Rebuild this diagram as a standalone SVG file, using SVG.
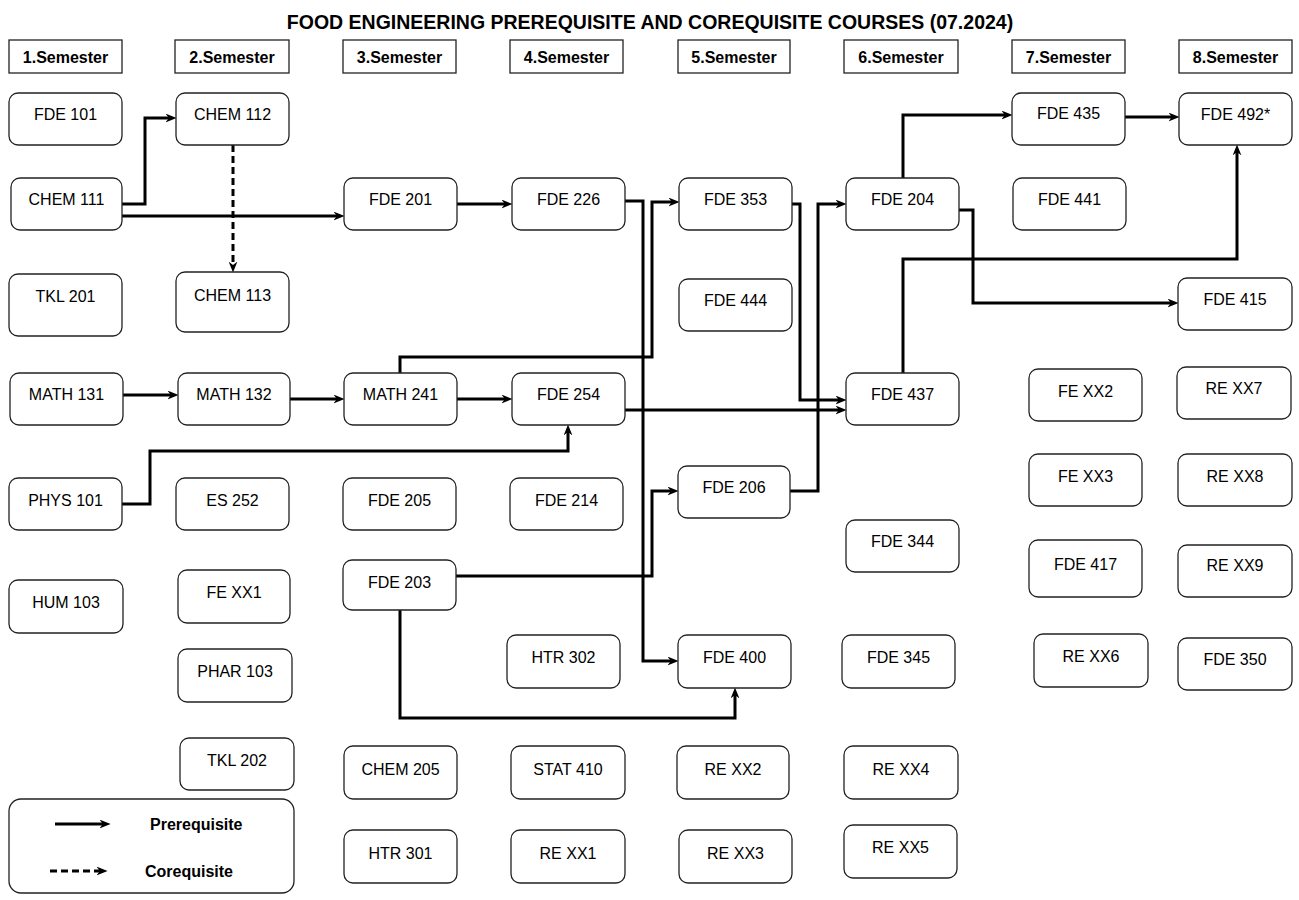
<svg xmlns="http://www.w3.org/2000/svg" width="1299" height="900" viewBox="0 0 1299 900">
<style>
.hdr rect{fill:#fff;stroke:#222;stroke-width:1.3}
.hdr text{font-family:"Liberation Sans",Arial,sans-serif;font-weight:bold;font-size:16px;text-anchor:middle}
.node rect{fill:#fff;stroke:#222;stroke-width:1.3}
.node text{font-family:"Liberation Sans",Arial,sans-serif;font-size:16px;text-anchor:middle;fill:#000}
.title{font-family:"Liberation Sans",Arial,sans-serif;font-weight:bold;font-size:19.5px;text-anchor:middle}
.c{fill:none;stroke:#000;stroke-width:3;marker-end:url(#ah)}
.d{fill:none;stroke:#000;stroke-width:3;stroke-dasharray:7 4;marker-end:url(#ah)}
.leg{font-family:"Liberation Sans",Arial,sans-serif;font-weight:bold;font-size:16px}
</style>
<defs>
<marker id="ah" viewBox="0 0 10 8" markerWidth="11" markerHeight="9" refX="4" refY="4" orient="auto" markerUnits="userSpaceOnUse">
<path d="M0,0 L10,4 L0,8 L3,4 z" fill="#000"/>
</marker>
</defs>
<rect width="1299" height="900" fill="#fff"/>
<text class="title" x="650" y="29">FOOD ENGINEERING PREREQUISITE AND COREQUISITE COURSES (07.2024)</text>

<g id="semesters">
<g id="sem1" class="hdr"><rect x="9" y="40" width="113" height="33"/><text x="65.5" y="63">1.Semester</text></g>
<g id="sem2" class="hdr"><rect x="175" y="40" width="114" height="33"/><text x="232" y="63">2.Semester</text></g>
<g id="sem3" class="hdr"><rect x="343" y="40" width="113" height="33"/><text x="399.5" y="63">3.Semester</text></g>
<g id="sem4" class="hdr"><rect x="510" y="40" width="113" height="33"/><text x="566.5" y="63">4.Semester</text></g>
<g id="sem5" class="hdr"><rect x="678" y="40" width="112" height="33"/><text x="734" y="63">5.Semester</text></g>
<g id="sem6" class="hdr"><rect x="844" y="40" width="114" height="33"/><text x="901" y="63">6.Semester</text></g>
<g id="sem7" class="hdr"><rect x="1012" y="40" width="113" height="33"/><text x="1068.5" y="63">7.Semester</text></g>
<g id="sem8" class="hdr"><rect x="1179" y="40" width="113" height="33"/><text x="1235.5" y="63">8.Semester</text></g>
</g>

<g id="connectors">
<path class="c" d="M122,204 H145 V118 H170"/>
<path class="c" d="M122,216 H338"/>
<path class="d" d="M233,145 V266"/>
<path class="c" d="M123,395 H172"/>
<path class="c" d="M290,399 H338"/>
<path class="c" d="M457,399 H506"/>
<path class="c" d="M457,204 H506"/>
<path class="c" d="M400,373 V357 H652 V202 H673"/>
<path class="c" d="M625,201 H643 V661 H672"/>
<path class="c" d="M122,504 H150 V451 H568 V431"/>
<path class="c" d="M625,410 H840"/>
<path class="c" d="M792,204 H800 V400 H840"/>
<path class="c" d="M456,576 H652 V491 H672"/>
<path class="c" d="M790,491 H818 V204 H840"/>
<path class="c" d="M400,610 V718 H735 V694"/>
<path class="c" d="M903,178 V115 H1006"/>
<path class="c" d="M1125,117 H1173"/>
<path class="c" d="M903,373 V259 H1237 V151"/>
<path class="c" d="M959,210 H973 V303 H1172"/>
</g>

<g id="nodes">
<g id="FDE101" class="node"><rect x="9" y="93" width="113" height="52" rx="9"/><text x="65.5" y="120">FDE 101</text></g>
<g id="CHEM112" class="node"><rect x="176" y="93" width="113" height="52" rx="9"/><text x="232.5" y="120">CHEM 112</text></g>
<g id="FDE435" class="node"><rect x="1012" y="93" width="113" height="52" rx="9"/><text x="1068.5" y="119">FDE 435</text></g>
<g id="FDE492" class="node"><rect x="1179" y="93" width="113" height="52" rx="9"/><text x="1235.5" y="120">FDE 492*</text></g>

<g id="CHEM111" class="node"><rect x="11" y="178" width="111" height="52" rx="9"/><text x="66.5" y="205">CHEM 111</text></g>
<g id="FDE201" class="node"><rect x="344" y="178" width="113" height="52" rx="9"/><text x="400.5" y="205">FDE 201</text></g>
<g id="FDE226" class="node"><rect x="512" y="178" width="113" height="52" rx="9"/><text x="568.5" y="205">FDE 226</text></g>
<g id="FDE353" class="node"><rect x="679" y="178" width="113" height="52" rx="9"/><text x="735.5" y="205">FDE 353</text></g>
<g id="FDE204" class="node"><rect x="846" y="178" width="113" height="52" rx="9"/><text x="902.5" y="205">FDE 204</text></g>
<g id="FDE441" class="node"><rect x="1013" y="178" width="113" height="52" rx="9"/><text x="1069.5" y="205">FDE 441</text></g>

<g id="TKL201" class="node"><rect x="9" y="274" width="113" height="62" rx="9"/><text x="65.5" y="302">TKL 201</text></g>
<g id="CHEM113" class="node"><rect x="176" y="272" width="113" height="60" rx="9"/><text x="232.5" y="301">CHEM 113</text></g>
<g id="FDE444" class="node"><rect x="679" y="279" width="113" height="52" rx="9"/><text x="735.5" y="306">FDE 444</text></g>
<g id="FDE415" class="node"><rect x="1178" y="278" width="114" height="52" rx="9"/><text x="1235" y="305">FDE 415</text></g>

<g id="MATH131" class="node"><rect x="10" y="373" width="113" height="52" rx="9"/><text x="66.5" y="400">MATH 131</text></g>
<g id="MATH132" class="node"><rect x="178" y="373" width="112" height="52" rx="9"/><text x="234" y="400">MATH 132</text></g>
<g id="MATH241" class="node"><rect x="344" y="373" width="113" height="52" rx="9"/><text x="400.5" y="400">MATH 241</text></g>
<g id="FDE254" class="node"><rect x="512" y="373" width="113" height="52" rx="9"/><text x="568.5" y="400">FDE 254</text></g>
<g id="FDE437" class="node"><rect x="846" y="373" width="113" height="52" rx="9"/><text x="902.5" y="400">FDE 437</text></g>
<g id="FEXX2" class="node"><rect x="1029" y="369" width="113" height="52" rx="9"/><text x="1085.5" y="397">FE XX2</text></g>
<g id="REXX7" class="node"><rect x="1177" y="367" width="114" height="52" rx="9"/><text x="1234" y="394">RE XX7</text></g>

<g id="PHYS101" class="node"><rect x="9" y="478" width="113" height="52" rx="9"/><text x="65.5" y="506">PHYS 101</text></g>
<g id="ES252" class="node"><rect x="176" y="478" width="113" height="52" rx="9"/><text x="232.5" y="506">ES 252</text></g>
<g id="FDE205" class="node"><rect x="343" y="478" width="113" height="52" rx="9"/><text x="399.5" y="506">FDE 205</text></g>
<g id="FDE214" class="node"><rect x="510" y="478" width="113" height="52" rx="9"/><text x="566.5" y="506">FDE 214</text></g>
<g id="FDE206" class="node"><rect x="678" y="466" width="112" height="52" rx="9"/><text x="734" y="493">FDE 206</text></g>
<g id="FEXX3" class="node"><rect x="1029" y="454" width="113" height="52" rx="9"/><text x="1085.5" y="482">FE XX3</text></g>
<g id="REXX8" class="node"><rect x="1178" y="454" width="114" height="52" rx="9"/><text x="1235" y="482">RE XX8</text></g>
<g id="FDE344" class="node"><rect x="846" y="520" width="113" height="52" rx="9"/><text x="902.5" y="547">FDE 344</text></g>

<g id="HUM103" class="node"><rect x="9" y="580" width="114" height="53" rx="9"/><text x="66" y="608">HUM 103</text></g>
<g id="FEXX1" class="node"><rect x="178" y="570" width="112" height="53" rx="9"/><text x="234" y="598">FE XX1</text></g>
<g id="FDE203" class="node"><rect x="343" y="560" width="113" height="50" rx="9"/><text x="399.5" y="588">FDE 203</text></g>
<g id="FDE417" class="node"><rect x="1029" y="540" width="113" height="57" rx="9"/><text x="1085.5" y="570">FDE 417</text></g>
<g id="REXX9" class="node"><rect x="1178" y="545" width="114" height="52" rx="9"/><text x="1235" y="571">RE XX9</text></g>

<g id="PHAR103" class="node"><rect x="178" y="649" width="114" height="53" rx="9"/><text x="235" y="677">PHAR 103</text></g>
<g id="HTR302" class="node"><rect x="507" y="635" width="113" height="53" rx="9"/><text x="563.5" y="663">HTR 302</text></g>
<g id="FDE400" class="node"><rect x="678" y="635" width="113" height="53" rx="9"/><text x="734.5" y="663">FDE 400</text></g>
<g id="FDE345" class="node"><rect x="842" y="635" width="113" height="53" rx="9"/><text x="898.5" y="663">FDE 345</text></g>
<g id="REXX6" class="node"><rect x="1034" y="634" width="114" height="53" rx="9"/><text x="1091" y="662">RE XX6</text></g>
<g id="FDE350" class="node"><rect x="1178" y="638" width="114" height="52" rx="9"/><text x="1235" y="665">FDE 350</text></g>

<g id="TKL202" class="node"><rect x="180" y="738" width="114" height="52" rx="9"/><text x="237" y="766">TKL 202</text></g>
<g id="CHEM205" class="node"><rect x="344" y="746" width="113" height="53" rx="9"/><text x="400.5" y="775">CHEM 205</text></g>
<g id="STAT410" class="node"><rect x="511" y="746" width="114" height="53" rx="9"/><text x="568" y="775">STAT 410</text></g>
<g id="REXX2" class="node"><rect x="677" y="746" width="112" height="53" rx="9"/><text x="733" y="775">RE XX2</text></g>
<g id="REXX4" class="node"><rect x="844" y="746" width="114" height="53" rx="9"/><text x="901" y="775">RE XX4</text></g>

<g id="HTR301" class="node"><rect x="344" y="830" width="113" height="53" rx="9"/><text x="400.5" y="859">HTR 301</text></g>
<g id="REXX1" class="node"><rect x="511" y="830" width="114" height="53" rx="9"/><text x="568" y="859">RE XX1</text></g>
<g id="REXX3" class="node"><rect x="679" y="830" width="113" height="53" rx="9"/><text x="735.5" y="859">RE XX3</text></g>
<g id="REXX5" class="node"><rect x="844" y="825" width="113" height="53" rx="9"/><text x="900.5" y="853">RE XX5</text></g>
</g>

<g id="legend">
<rect x="9" y="799" width="285" height="94" rx="12" fill="#fff" stroke="#222" stroke-width="1.3"/>
<path class="c" d="M55,824 H104"/>
<path class="d" d="M50,871 H101"/>
<text class="leg" x="150" y="830">Prerequisite</text>
<text class="leg" x="145" y="877">Corequisite</text>
</g>
</svg>
